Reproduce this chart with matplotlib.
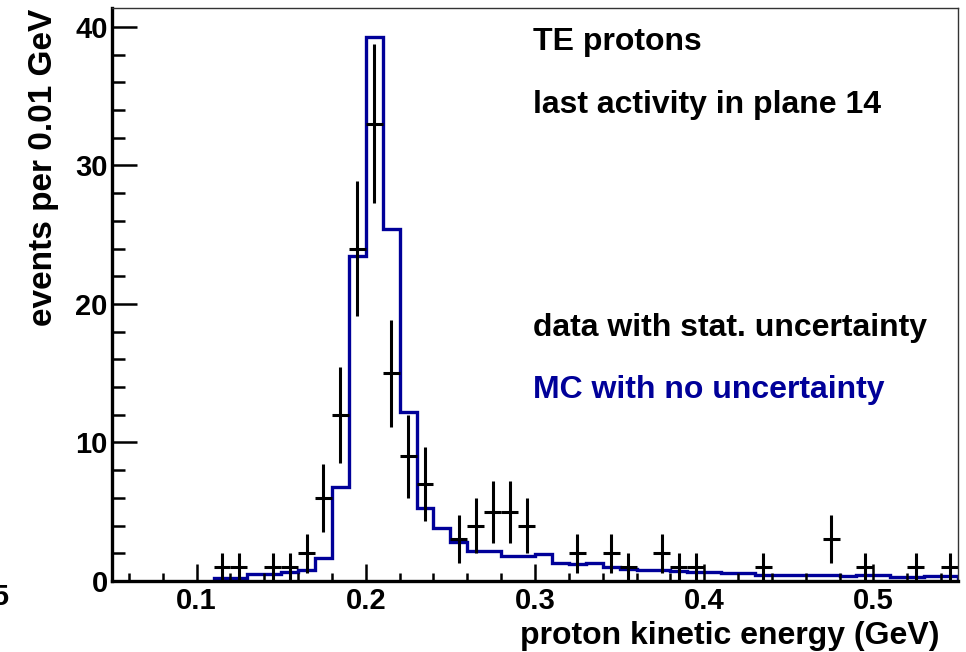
import numpy as np
import matplotlib
matplotlib.use("Agg")
import matplotlib.pyplot as plt
from matplotlib.ticker import MultipleLocator

plt.rcParams['font.family'] = ['Liberation Sans', 'DejaVu Sans']
plt.rcParams['font.weight'] = 'bold'

# Data (bin centers, counts) - bin width 0.01 GeV
data_x = [0.115, 0.125, 0.145, 0.155, 0.165, 0.175, 0.185, 0.195, 0.205, 0.215,
          0.225, 0.235, 0.255, 0.265, 0.275, 0.285, 0.295, 0.325, 0.345, 0.355,
          0.375, 0.385, 0.395, 0.435, 0.475, 0.495, 0.525, 0.545]
data_y = [1, 1, 1, 1, 2, 6, 12, 24, 33, 15,
          9, 7, 3, 4, 5, 5, 4, 2, 2, 1,
          2, 1, 1, 1, 3, 1, 1, 1]

# MC histogram (bin edges start 0.11, width 0.01)
mc_start = 0.11
mc_vals = [0.24, 0.24, 0.48, 0.48, 0.67, 0.8, 1.64, 6.8, 23.5, 39.3,
           25.4, 12.2, 5.3, 3.8, 2.8, 2.2, 2.2, 1.83, 1.83, 1.95,
           1.28, 1.25, 1.28, 1.0, 0.84, 0.8, 0.78, 0.75, 0.67, 0.62,
           0.55, 0.55, 0.43, 0.43, 0.4, 0.4, 0.4, 0.38, 0.43, 0.4,
           0.31, 0.31, 0.36, 0.38]
bin_w = 0.01

xticks = [0.1, 0.2, 0.3, 0.4, 0.5]
xtick_labels = ['0.1', '0.2', '0.3', '0.4', '0.5']
yticks = [0, 10, 20, 30, 40]

blue = '#000099'

fig = plt.figure(figsize=(9.66, 6.52), dpi=100)
ax = fig.add_axes([112/966, 1-581/652, (958-112)/966, (581-8)/652])

edges = mc_start + bin_w*np.arange(len(mc_vals)+1)
ax.stairs(mc_vals, edges, color=blue, lw=2.4, baseline=0)

dy = np.sqrt(np.array(data_y, dtype=float))
ax.errorbar(data_x, data_y, yerr=dy, xerr=bin_w/2, fmt='none', ecolor='black',
            elinewidth=2.2, capsize=0)

ax.set_xlim(0.05, 0.55)
ax.set_ylim(0, 41.37)
ax.set_xticks(xticks)
ax.set_xticklabels(xtick_labels)
ax.set_yticks(yticks)
ax.xaxis.set_minor_locator(MultipleLocator(0.02))
ax.yaxis.set_minor_locator(MultipleLocator(2))
ax.tick_params(axis='both', which='both', direction='in', width=1.8,
               top=False, right=False)
ax.tick_params(axis='y', which='major', length=18, labelsize=21, pad=3)
ax.tick_params(axis='y', which='minor', length=9)
ax.tick_params(axis='x', which='major', length=12, labelsize=21, pad=4)
ax.tick_params(axis='x', which='minor', length=6)
for lab in ax.get_xticklabels() + ax.get_yticklabels():
    lab.set_fontweight('bold')

for s in ['left', 'bottom']:
    ax.spines[s].set_linewidth(2.4)
for s in ['top', 'right']:
    ax.spines[s].set_linewidth(1.0)
    ax.spines[s].set_color('#333333')

fs = 23
fig.text(533/966, 1-42/652, 'TE protons', fontsize=fs,
         fontweight='bold', ha='left', va='center')
fig.text(533/966, 1-105/652, 'last activity in plane 14',
         fontsize=fs, fontweight='bold', ha='left', va='center')
fig.text(533/966, 1-328/652, 'data with stat. uncertainty',
         fontsize=fs, fontweight='bold', ha='left', va='center')
fig.text(533/966, 1-390/652, 'MC with no uncertainty',
         fontsize=fs, fontweight='bold', ha='left', va='center', color=blue)

fig.text(940/966, 1-636/652, 'proton kinetic energy (GeV)', fontsize=23,
         fontweight='bold', ha='right', va='center')
fig.text(44/966, 1-9/652, 'events per 0.01 GeV', fontsize=24, rotation=90,
         fontweight='bold', ha='center', va='top')
fig.text(10/966, 1-597/652, '0.05', fontsize=21, fontweight='bold',
         ha='right', va='center')

fig.savefig('out.png', dpi=100)
